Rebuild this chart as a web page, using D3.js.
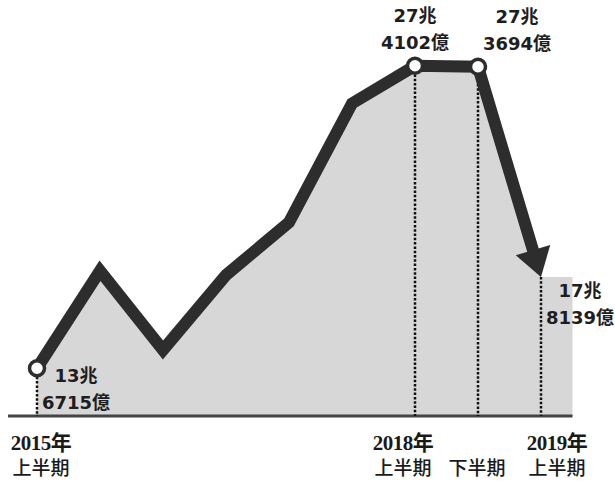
<!DOCTYPE html>
<html>
<head>
<meta charset="utf-8">
<script src="https://cdn.jsdelivr.net/npm/d3@7"></script>
<style>
  body { margin: 0; background: #fff; }
</style>
</head>
<body>
<script>
const width = 615
const height = 481

// data: half-year periods, value in 兆円
const periods = ['2015H1', '2015H2', '2016H1', '2016H2', '2017H1', '2017H2', '2018H1', '2018H2', '2019H1']
const values = [13.6715, 18.1, 14.5, 17.9, 20.3, 25.7, 27.4102, 27.3694, 17.8139]

// labelled points
const markIdx = [0, 6, 7]
const dropIdx = [0, 6, 7, 8]
const labelIdx = [0, 6, 7, 8]
const labelTop = ['13兆', '27兆', '27兆', '17兆']
const labelBottom = ['6715億', '4102億', '3694億', '8139億']

// x axis labels
const tickIdx = [0, 6, 7, 8]
const tickYear = ['2015年', '2018年', '', '2019年']
const tickHalf = ['上半期', '上半期', '下半期', '上半期']

const ink = '#2d2d2d'

const x = d3.scalePoint()
  .domain(periods)
  .range([37, 541])

const y = d3.scaleLinear()
  .domain([11.5, 30.4])
  .range([416, 0])

const base = y(11.5)

const svg = d3.select('body')
  .append('svg')
    .attr('width', width)
    .attr('height', height)

const pts = periods.map((p, i) => [x(p), y(values[i])])

// gray area, carried a little past the last period
const last = pts[pts.length - 1]
const ext = (x.step() * 0.5)
const areaPts = pts.concat([[last[0] + ext, last[1]]])

const area = d3.area()
  .x((d) => d[0])
  .y0(base)
  .y1((d) => d[1])

svg.append('path')
  .attr('d', area(areaPts))
  .attr('fill', '#d7d7d7')

// baseline
svg.append('line')
  .attr('x1', 8)
  .attr('x2', last[0] + ext)
  .attr('y1', base)
  .attr('y2', base)
  .attr('stroke', '#444')
  .attr('stroke-width', 3)

// dotted drops
svg.selectAll('line.drop')
  .data(dropIdx)
  .join('line')
    .attr('class', 'drop')
    .attr('x1', (i) => pts[i][0])
    .attr('x2', (i) => pts[i][0])
    .attr('y1', (i) => pts[i][1])
    .attr('y2', base)
    .attr('stroke', '#111')
    .attr('stroke-width', 2.5)
    .attr('stroke-dasharray', '2.5 1.8')

// line with arrowhead at the end
const prev = pts[pts.length - 2]
const dx = last[0] - prev[0]
const dy = last[1] - prev[1]
const len = Math.hypot(dx, dy)
const ux = dx / len
const uy = dy / len
const headLen = 28
const headHalf = 18
const bx = last[0] - ux * headLen
const by = last[1] - uy * headLen

const linePts = pts.slice(0, -1).concat([[bx + ux * 3, by + uy * 3]])

svg.append('path')
  .attr('d', d3.line()(linePts))
  .attr('fill', 'none')
  .attr('stroke', ink)
  .attr('stroke-width', 12)
  .attr('stroke-linejoin', 'miter')

svg.append('path')
  .attr('d', d3.line()([
    last,
    [bx - uy * headHalf, by + ux * headHalf],
    [bx + uy * headHalf, by - ux * headHalf]
  ]) + 'Z')
  .attr('fill', ink)

// hollow markers
svg.selectAll('circle')
  .data(markIdx)
  .join('circle')
    .attr('cx', (i) => pts[i][0])
    .attr('cy', (i) => pts[i][1])
    .attr('r', 7.5)
    .attr('fill', '#fff')
    .attr('stroke', ink)
    .attr('stroke-width', 3.5)

// value labels
const labelDx = [39, 0, 39, 39]
const labelDy = [14, -44, -44, 20]

const labels = svg.append('g')
  .attr('font-family', '"DejaVu Sans", "Noto Sans CJK JP", sans-serif')
  .attr('font-weight', 'bold')
  .attr('font-size', 18)
  .attr('fill', '#1e1e1e')
  .attr('text-anchor', 'middle')

labelIdx.forEach((i, k) => {
  const cx = pts[i][0] + labelDx[k]
  const cy = pts[i][1] + labelDy[k]
  labels.append('text')
    .attr('x', cx)
    .attr('y', cy)
    .text(labelTop[k])
  labels.append('text')
    .attr('x', cx)
    .attr('y', cy + 27)
    .text(labelBottom[k])
})

// period labels
const tickDx = [4, -12, -1, 16]

const ticks = svg.append('g')
  .attr('fill', '#1a1a1a')
  .attr('text-anchor', 'middle')

tickIdx.forEach((i, k) => {
  const cx = x(periods[i]) + tickDx[k]
  ticks.append('text')
    .attr('x', cx)
    .attr('y', 450)
    .attr('font-family', '"Liberation Serif", "Noto Sans CJK JP", serif')
    .attr('font-weight', 'bold')
    .attr('font-size', 21)
    .attr('letter-spacing', -0.5)
    .text(tickYear[k])
  ticks.append('text')
    .attr('x', cx)
    .attr('y', 475)
    .attr('font-family', '"Noto Sans CJK JP", sans-serif')
    .attr('font-weight', 500)
    .attr('font-size', 19)
    .text(tickHalf[k])
})
</script>
</body>
</html>
